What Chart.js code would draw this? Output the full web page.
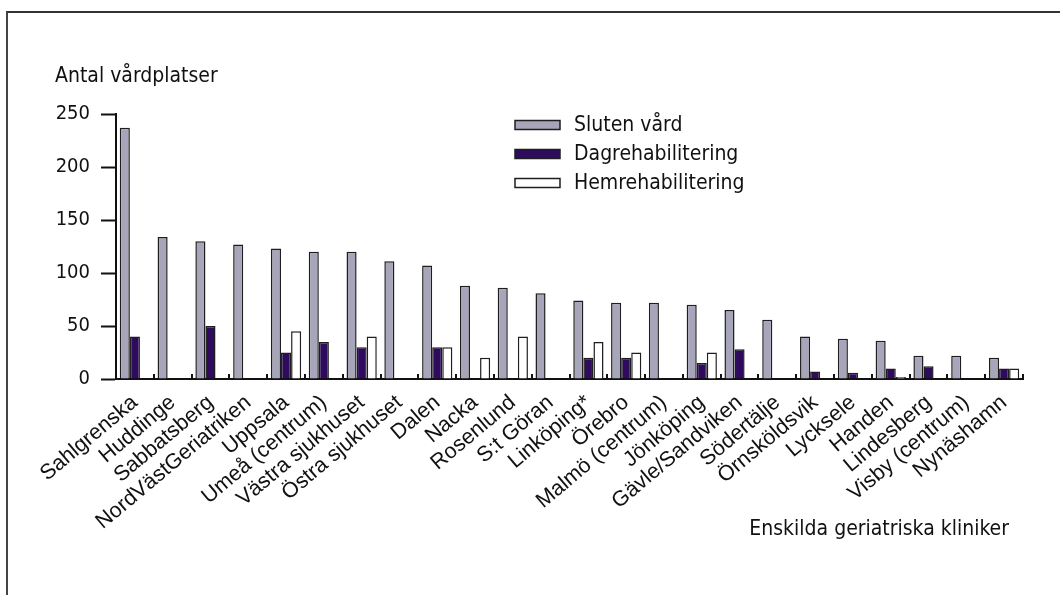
<!DOCTYPE html>
<html>
<head>
<meta charset="utf-8">
<script src="https://cdn.jsdelivr.net/npm/chart.js@4.4.1/dist/chart.umd.min.js"></script>
<style>
  html, body { margin: 0; padding: 0; background: #fff; }
  #wrap { position: relative; width: 1060px; height: 595px; overflow: hidden; }
  #frame { position: absolute; left: 6px; top: 11px; width: 1100px; height: 700px;
           border-top: 2px solid #333; border-left: 2px solid #444; }
  #myChart { position: absolute; left: 0; top: 0; }
</style>
</head>
<body>
<div id="wrap">
  <div id="frame"></div>
  <canvas id="myChart" width="1060" height="595"></canvas>
</div>
<script>
// Clinics (categories)
const clinics = ['Sahlgrenska', 'Huddinge', 'Sabbatsberg', 'NordVästGeriatriken', 'Uppsala',
    'Umeå (centrum)', 'Västra sjukhuset', 'Östra sjukhuset', 'Dalen', 'Nacka', 'Rosenlund',
    'S:t Göran', 'Linköping*', 'Örebro', 'Malmö (centrum)', 'Jönköping', 'Gävle/Sandviken',
    'Södertälje', 'Örnsköldsvik', 'Lycksele', 'Handen', 'Lindesberg', 'Visby (centrum)', 'Nynäshamn'];

// Series values (antal vårdplatser)
const slutenVard = [237, 134, 130, 127, 123, 120, 120, 111, 107, 88, 86, 81,
    74, 72, 72, 70, 65, 56, 40, 38, 36, 22, 22, 20];
const dagrehab = [40, null, 50, null, 25, 35, 30, null, 30, null, null, null,
    20, 20, null, 15, 28, null, 7, 6, 10, 12, null, 10];
const hemrehab = [null, null, null, null, 45, null, 40, null, 30, 20, 40, null,
    35, 25, null, 25, null, null, null, null, 2, null, null, 10];

const yTicks = [0, 50, 100, 150, 200, 250];

const seriesNames = ['Sluten vård', 'Dagrehabilitering', 'Hemrehabilitering'];

const condFont = "'Liberation Sans Narrow', 'DejaVu Sans Condensed', 'Liberation Sans', sans-serif";
const regFont = "'Liberation Sans', Arial, sans-serif";

function initChart() {
    const ctx = document.getElementById('myChart');

    const barStyle = {
        borderColor: '#1e1e1e',
        borderWidth: 1.5,
        borderSkipped: 'bottom',
        categoryPercentage: 0.8,
        barPercentage: 1.0
    };

    const chartData = {
        labels: clinics,
        datasets: [
            Object.assign({ label: seriesNames[0], data: slutenVard, backgroundColor: '#a7a5ba' }, barStyle),
            Object.assign({ label: seriesNames[1], data: dagrehab, backgroundColor: '#2e0b5e' }, barStyle),
            Object.assign({ label: seriesNames[2], data: hemrehab, backgroundColor: '#ffffff' }, barStyle)
        ]
    };

    // texts, legend and small category ticks
    const extras = {
        id: 'extras',
        afterDraw: function(chart) {
            const c = chart.ctx;
            const xs = chart.scales.x;
            const area = chart.chartArea;
            c.save();

            // small tick marks between groups, pointing up from the axis
            c.fillStyle = '#111';
            const step = (area.right - area.left) / clinics.length;
            for (let i = 1; i <= clinics.length; i++) {
                const bx = xs.getPixelForValue(i - 1) + step / 2;
                c.fillRect(Math.round(bx) - 1, area.bottom - 5, 2, 5);
            }

            // axis titles
            c.fillStyle = '#111';
            c.font = '21px ' + condFont;
            c.textBaseline = 'middle';
            c.textAlign = 'left';
            c.fillText('Antal vårdplatser', 55, 77);
            c.textAlign = 'right';
            c.fillText('Enskilda geriatriska kliniker', 1009, 530);

            // legend
            const rows = [125, 154, 183];
            chart.data.datasets.forEach(function(ds, i) {
                c.fillStyle = ds.backgroundColor;
                c.fillRect(515, rows[i] - 4.5, 45, 9);
                c.strokeStyle = '#1e1e1e';
                c.lineWidth = 1.5;
                c.strokeRect(515, rows[i] - 4.5, 45, 9);
                c.fillStyle = '#111';
                c.textAlign = 'left';
                c.font = '21px ' + condFont;
                c.fillText(ds.label, 574, rows[i] + 1);
            });
            c.restore();
        }
    };

    const config = {
        type: 'bar',
        data: chartData,
        options: {
            responsive: false,
            animation: false,
            plugins: {
                legend: { display: false },
                title: { display: false },
                tooltip: { enabled: false }
            },
            layout: {
                padding: { top: 114, right: 37, bottom: 0, left: 0 }
            },
            scales: {
                x: {
                    grid: { display: false },
                    border: { display: true, color: '#111', width: 2 },
                    ticks: {
                        autoSkip: false,
                        minRotation: 40,
                        maxRotation: 40,
                        padding: 3,
                        color: '#111',
                        font: { size: 21.5, family: regFont }
                    },
                    afterFit: function(scale) { scale.height = 216; }
                },
                y: {
                    min: 0,
                    max: 250,
                    afterBuildTicks: function(scale) {
                        scale.ticks = yTicks.map(function(v) { return { value: v }; });
                    },
                    grid: {
                        display: true,
                        drawOnChartArea: false,
                        drawTicks: true,
                        tickLength: 15,
                        tickWidth: 2,
                        tickColor: '#111'
                    },
                    border: { display: true, color: '#111', width: 2 },
                    ticks: {
                        padding: 11,
                        color: '#111',
                        font: { size: 20, family: condFont }
                    },
                    afterFit: function(scale) { scale.width = 116; }
                }
            }
        },
        plugins: [extras]
    };

    window.geriatrikChart = new Chart(ctx, config);
}

document.addEventListener('DOMContentLoaded', initChart);
</script>
</body>
</html>
